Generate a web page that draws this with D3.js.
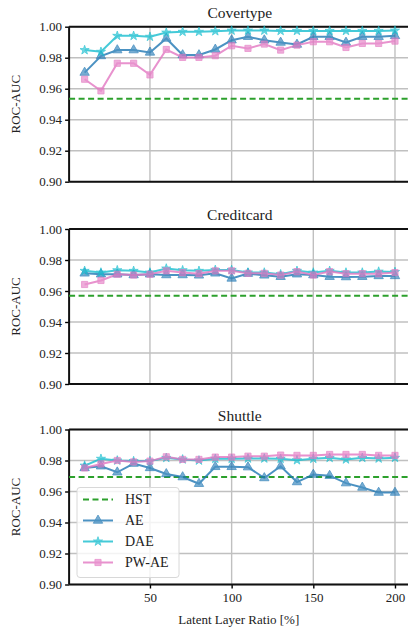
<!DOCTYPE html>
<html>
<head>
<meta charset="utf-8">
<script src="https://cdn.jsdelivr.net/npm/d3@7"></script>
<style>
  body { margin: 0; background: #fff; }
  svg text { font-family: "Liberation Serif", "DejaVu Serif", serif; }
</style>
</head>
<body>
<div id="chart"></div>
<script>
var width = 408,
    height = 633;

// latent layer ratios [%]
var ratios = [10, 20, 30, 40, 50, 60, 70, 80, 90, 100, 110, 120, 130, 140, 150, 160, 170, 180, 190, 200];

var datasets = ["Covertype", "Creditcard", "Shuttle"];
var yTicks = [0.90, 0.92, 0.94, 0.96, 0.98, 1.00];
var xTicks = [50, 100, 150, 200];

var hst = [0.9535, 0.957, 0.9693];

var aeCovertype  = [0.9704, 0.9811, 0.9849, 0.9849, 0.9834, 0.9924, 0.9817, 0.9817, 0.9853, 0.9913, 0.9935, 0.9913, 0.9898, 0.9885, 0.9935, 0.9935, 0.9898, 0.9935, 0.9935, 0.9941];
var daeCovertype = [0.9849, 0.9838, 0.9941, 0.9941, 0.9935, 0.9962, 0.9967, 0.9967, 0.9971, 0.9975, 0.9975, 0.9975, 0.9973, 0.9973, 0.9973, 0.9973, 0.9973, 0.9973, 0.9973, 0.9975];
var pwCovertype  = [0.9661, 0.9586, 0.9764, 0.9764, 0.9689, 0.9853, 0.9802, 0.9802, 0.9813, 0.9877, 0.9860, 0.9888, 0.9849, 0.9881, 0.9903, 0.9903, 0.9866, 0.9892, 0.9892, 0.9907];

var aeCreditcard  = [0.9714, 0.9708, 0.9708, 0.9703, 0.9708, 0.9703, 0.9703, 0.9701, 0.9714, 0.9681, 0.9712, 0.9701, 0.9692, 0.9708, 0.9703, 0.9692, 0.9690, 0.9692, 0.9697, 0.9697];
var daeCreditcard = [0.9730, 0.9719, 0.9734, 0.9730, 0.9719, 0.9745, 0.9734, 0.9730, 0.9736, 0.9736, 0.9719, 0.9719, 0.9708, 0.9730, 0.9719, 0.9730, 0.9719, 0.9719, 0.9725, 0.9723];
var pwCreditcard  = [0.9642, 0.9668, 0.9708, 0.9703, 0.9708, 0.9730, 0.9719, 0.9712, 0.9730, 0.9730, 0.9714, 0.9714, 0.9703, 0.9725, 0.9703, 0.9725, 0.9712, 0.9712, 0.9712, 0.9719];

var aeShuttle  = [0.9752, 0.9763, 0.9724, 0.9780, 0.9752, 0.9713, 0.9693, 0.9650, 0.9759, 0.9759, 0.9757, 0.9687, 0.9763, 0.9661, 0.9709, 0.9702, 0.9654, 0.9626, 0.9593, 0.9593];
var daeShuttle = [0.9767, 0.9811, 0.9800, 0.9796, 0.9796, 0.9817, 0.9807, 0.9800, 0.9811, 0.9811, 0.9813, 0.9813, 0.9811, 0.9802, 0.9811, 0.9817, 0.9807, 0.9817, 0.9813, 0.9817];
var pwShuttle  = [0.9752, 0.9778, 0.9800, 0.9791, 0.9796, 0.9824, 0.9807, 0.9807, 0.9822, 0.9822, 0.9828, 0.9828, 0.9835, 0.9833, 0.9833, 0.9839, 0.9839, 0.9839, 0.9833, 0.9833];

var series = [
  {name: "AE",    color: "#1f77b4", symbol: d3.symbolTriangle, size: 38, data: [aeCovertype, aeCreditcard, aeShuttle]},
  {name: "DAE",   color: "#17becf", symbol: d3.symbolStar,     size: 26, data: [daeCovertype, daeCreditcard, daeShuttle]},
  {name: "PW-AE", color: "#e377c2", symbol: d3.symbolSquare,   size: 38, data: [pwCovertype, pwCreditcard, pwShuttle]}
];

var serif = "Liberation Serif, DejaVu Serif, serif";
var left = 69.1, right = 410.5;
var panelTops = [26.7, 229, 429.5],
    panelH = 155;

var x = d3.scaleLinear().domain([0.5, 209.5]).range([left, right]);

var svg = d3.select("#chart").append("svg")
    .attr("width", width)
    .attr("height", height);

datasets.forEach(function(name, i) {
  var top = panelTops[i];
  var y = d3.scaleLinear().domain([0.90, 1.00]).range([top + panelH, top]);
  var g = svg.append("g");

  // grid
  g.append("g").selectAll("line").data(yTicks).enter().append("line")
      .attr("x1", left).attr("x2", right)
      .attr("y1", function(d) { return y(d); }).attr("y2", function(d) { return y(d); })
      .attr("stroke", "#c0c0c0").attr("stroke-width", 1.4);
  g.append("g").selectAll("line").data(xTicks).enter().append("line")
      .attr("x1", function(d) { return x(d); }).attr("x2", function(d) { return x(d); })
      .attr("y1", top).attr("y2", top + panelH)
      .attr("stroke", "#c0c0c0").attr("stroke-width", 1.4);

  // y axis
  var yAxis = g.append("g")
      .attr("transform", "translate(" + left + ",0)")
      .call(d3.axisLeft(y).tickValues(yTicks).tickFormat(d3.format(".2f")).tickSize(4).tickPadding(3));
  yAxis.attr("font-family", serif);
  yAxis.select(".domain").remove();
  yAxis.selectAll(".tick line").attr("stroke", "#000").attr("stroke-width", 1.4);
  yAxis.selectAll("text").attr("font-size", 13).attr("fill", "#222");

  if (i === datasets.length - 1) {
    var xAxis = g.append("g")
        .attr("transform", "translate(0," + (top + panelH) + ")")
        .call(d3.axisBottom(x).tickValues(xTicks).tickSize(4).tickPadding(4));
    xAxis.attr("font-family", serif);
    xAxis.select(".domain").remove();
    xAxis.selectAll(".tick line").attr("stroke", "#000").attr("stroke-width", 1.4);
    xAxis.selectAll("text").attr("font-size", 13).attr("fill", "#222");
  }

  // spines
  g.append("line").attr("x1", left).attr("x2", left).attr("y1", top).attr("y2", top + panelH)
      .attr("stroke", "#111").attr("stroke-width", 2);
  g.append("line").attr("x1", left).attr("x2", right).attr("y1", top).attr("y2", top)
      .attr("stroke", "#111").attr("stroke-width", 2);
  g.append("line").attr("x1", left).attr("x2", right).attr("y1", top + panelH).attr("y2", top + panelH)
      .attr("stroke", "#111").attr("stroke-width", 2);

  // title + y label
  g.append("text").attr("x", (left + right) / 2).attr("y", top - 9)
      .attr("text-anchor", "middle").attr("font-size", 15.5).attr("fill", "#222")
      .text(name);
  g.append("text")
      .attr("transform", "translate(20," + (top + panelH / 2) + ")rotate(-90)")
      .attr("text-anchor", "middle").attr("font-size", 13).attr("fill", "#222")
      .text("ROC-AUC");

  // HST baseline
  g.append("line")
      .attr("x1", left).attr("x2", right)
      .attr("y1", y(hst[i])).attr("y2", y(hst[i]))
      .attr("stroke", "#2ca02c").attr("stroke-width", 2)
      .attr("stroke-dasharray", "6,3.5");

  var line = d3.line()
      .x(function(d, j) { return x(ratios[j]); })
      .y(function(d) { return y(d); });

  series.forEach(function(s) {
    var sg = g.append("g").attr("opacity", 0.8);
    sg.append("path")
        .attr("d", line(s.data[i]))
        .attr("fill", "none")
        .attr("stroke", s.color)
        .attr("stroke-width", 2);
    sg.selectAll("path.pt").data(s.data[i]).enter().append("path")
        .attr("class", "pt")
        .attr("transform", function(d, j) { return "translate(" + x(ratios[j]) + "," + y(d) + ")"; })
        .attr("d", d3.symbol().type(s.symbol).size(s.size))
        .attr("fill", s.color)
        .attr("stroke", s.color)
        .attr("stroke-width", 0.8)
        .attr("fill-opacity", 0.75);
  });

  // legend in last panel
  if (i === datasets.length - 1) {
    var lg = g.append("g").attr("transform", "translate(77," + (top + 58) + ")");
    lg.append("rect").attr("width", 102).attr("height", 90).attr("rx", 3)
        .attr("fill", "#fff").attr("fill-opacity", 0.8)
        .attr("stroke", "#d8d8d8").attr("stroke-width", 1);
    var items = [{name: "HST", color: "#2ca02c", dash: true}].concat(series);
    items.forEach(function(it, k) {
      var yy = 12 + k * 21;
      var ig = lg.append("g").attr("opacity", it.dash ? 1 : 0.8);
      ig.append("line").attr("x1", 6).attr("x2", 36).attr("y1", yy).attr("y2", yy)
          .attr("stroke", it.color).attr("stroke-width", 2)
          .attr("stroke-dasharray", it.dash ? "6,3.5" : null);
      if (!it.dash) {
        ig.append("path")
            .attr("transform", "translate(21," + yy + ")")
            .attr("d", d3.symbol().type(it.symbol).size(it.size))
            .attr("fill", it.color).attr("fill-opacity", 0.75)
            .attr("stroke", it.color).attr("stroke-width", 0.8);
      }
      lg.append("text").attr("x", 48).attr("y", yy).attr("dy", "0.35em")
          .attr("font-size", 14).attr("fill", "#222").text(it.name);
    });
  }
});

svg.append("text")
    .attr("x", (left + right) / 2 - 1).attr("y", 624)
    .attr("text-anchor", "middle").attr("font-size", 13).attr("fill", "#222")
    .text("Latent Layer Ratio [%]");
</script>
</body>
</html>
